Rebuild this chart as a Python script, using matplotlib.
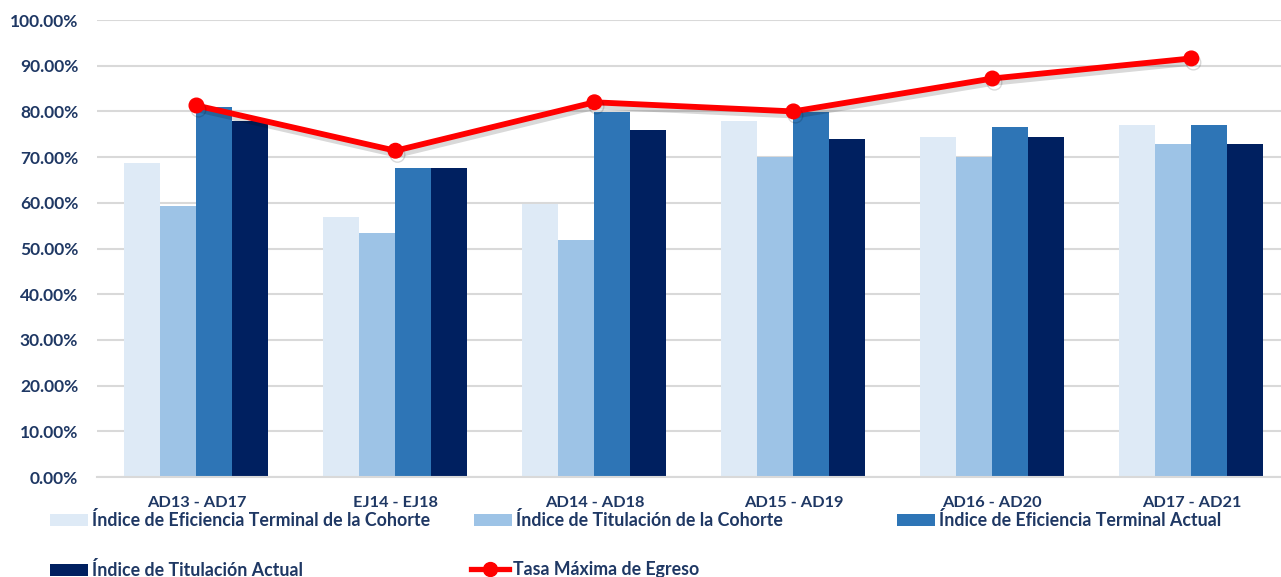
import matplotlib
import matplotlib.pyplot as plt
import matplotlib.patheffects as pe
import numpy as np
from matplotlib.lines import Line2D
from matplotlib.patches import Patch
from matplotlib.ticker import FuncFormatter

matplotlib.use("Agg")

CATEGORIES = ["AD13 - AD17", "EJ14 - EJ18", "AD14 - AD18", "AD15 - AD19", "AD16 - AD20", "AD17 - AD21"]
EF_COHORTE = [68.7, 56.9, 59.7, 77.9, 74.4, 77.0]
TIT_COHORTE = [59.3, 53.4, 51.9, 70.0, 70.1, 72.8]
EF_ACTUAL = [81.0, 67.7, 79.9, 79.9, 76.5, 77.0]
TIT_ACTUAL = [78.0, 67.7, 75.9, 73.9, 74.4, 72.8]
TASA_MAX = [81.3, 71.4, 82.0, 80.0, 87.2, 91.6]

SERIES = [
    ("Índice de Eficiencia Terminal de la Cohorte", EF_COHORTE, "#DEEAF6"),
    ("Índice de Titulación de la Cohorte", TIT_COHORTE, "#9DC3E6"),
    ("Índice de Eficiencia Terminal Actual", EF_ACTUAL, "#2E75B6"),
    ("Índice de Titulación Actual", TIT_ACTUAL, "#002060"),
]
LINE_LABEL = "Tasa Máxima de Egreso"

NAVY = "#1F3864"
FONT = ["Lato", "DejaVu Sans"]

plt.rcParams["font.family"] = FONT
plt.rcParams["font.weight"] = "bold"

fig = plt.figure(figsize=(12.81, 5.77), dpi=100)
ax = fig.add_axes([0.0757, 0.1733, 0.932, 0.792])

x = np.arange(len(CATEGORIES))
bw = 0.181
for i, (label, vals, color) in enumerate(SERIES):
    ax.bar(x + (i - 1.5) * bw, np.array(vals) / 100, width=bw, color=color, edgecolor="none", zorder=2)

ax.plot(
    x, np.array(TASA_MAX) / 100, color="#FF0000", linewidth=4.2, marker="o", markersize=10.5, zorder=4,
    path_effects=[pe.SimpleLineShadow(offset=(1.5, -3), alpha=0.15, shadow_color="black"), pe.Normal()],
)

ax.set_xlim(-0.5, len(CATEGORIES) - 0.5)
ax.set_ylim(0, 1.0)
ax.set_yticks(np.arange(0, 1.01, 0.1))
ax.yaxis.set_major_formatter(FuncFormatter(lambda v, p: f"{v * 100:.2f}%"))
ax.yaxis.grid(True, color="#D9D9D9", linewidth=1.5, zorder=0)
ax.set_axisbelow(True)
for s in ["top", "right", "left"]:
    ax.spines[s].set_visible(False)
ax.spines["bottom"].set_color("#D9D9D9")
ax.spines["bottom"].set_linewidth(1.5)
ax.tick_params(axis="both", length=0, labelcolor=NAVY)
ax.tick_params(axis="y", pad=13.5, labelsize=12.5)
ax.tick_params(axis="x", pad=14, labelsize=11.8)
ax.set_xticks(x)
ax.set_xticklabels(CATEGORIES)
for t in ax.get_xticklabels() + ax.get_yticklabels():
    t.set_fontweight("bold")

handles = [Patch(facecolor=c, edgecolor="none", label=l) for l, _, c in SERIES]
line_handle = Line2D([], [], color="#FF0000", linewidth=3.8, marker="o", markersize=10, label=LINE_LABEL)

leg_kw = dict(frameon=False, handlelength=2.15, handleheight=0.68, handletextpad=0.2,
              borderaxespad=0, borderpad=0, labelcolor=NAVY,
              prop={"family": FONT, "weight": "bold", "size": 12.8})
# (handle, x of handle left, y of row centre) in pixels
entries = [
    (handles[0], 50, 520), (handles[1], 474, 520), (handles[2], 897, 520),
    (handles[3], 50, 570), (line_handle, 471, 570),
]
for h, px, py in entries:
    fig.legend(handles=[h], loc="center left", bbox_to_anchor=(px / 1281, 1 - py / 577), **leg_kw)

fig.savefig("out.png", dpi=100, facecolor="white")
